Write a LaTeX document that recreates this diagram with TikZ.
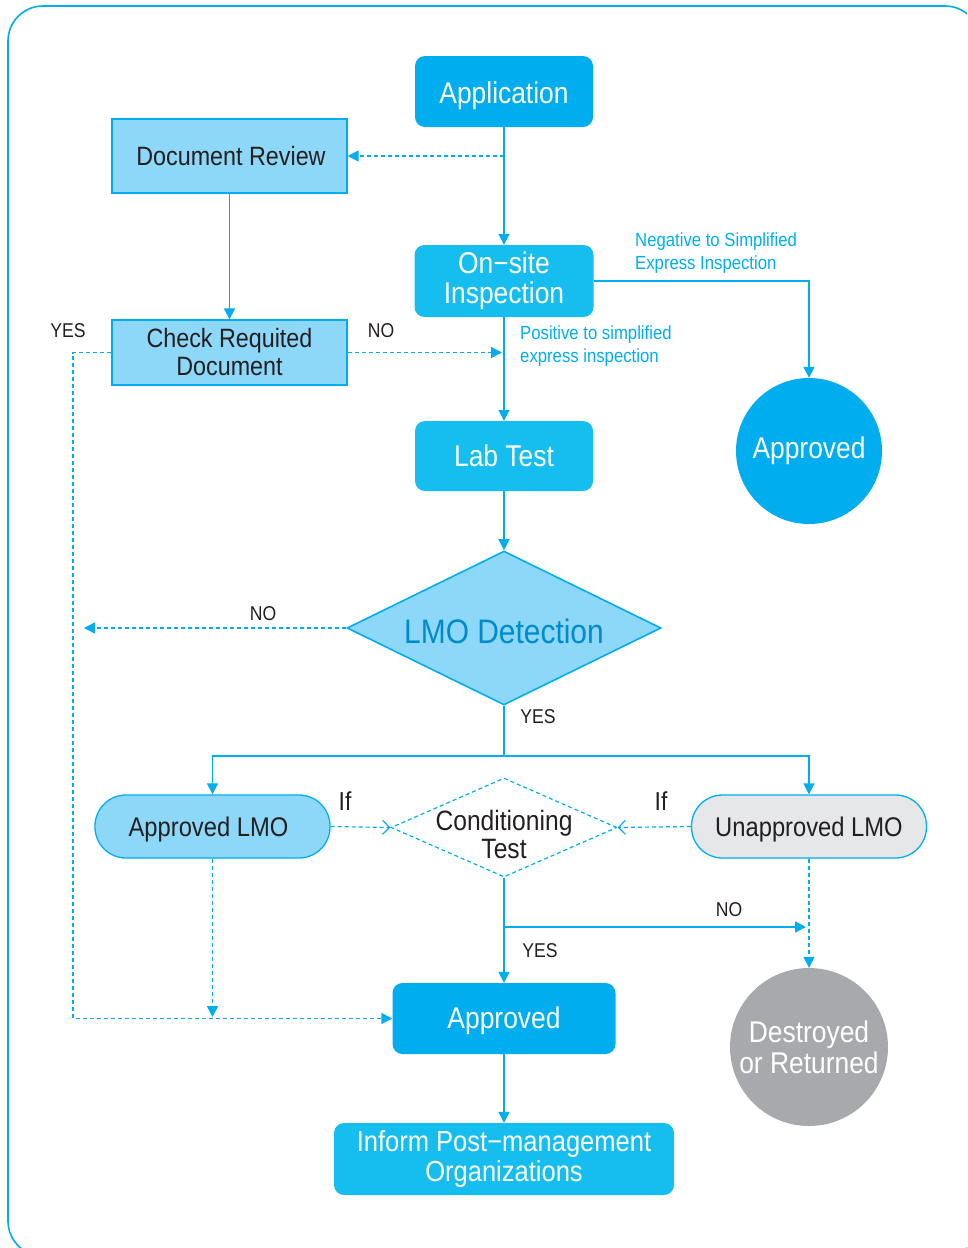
\documentclass[tikz,border=0pt]{standalone}
\usepackage{fontspec}
\setmainfont{Liberation Sans}[FakeStretch=0.88]
\usetikzlibrary{arrows.meta,shapes.geometric}
\definecolor{cyanA}{RGB}{0,174,239}
\definecolor{cyanB}{RGB}{22,190,240}
\definecolor{lightB}{RGB}{141,216,248}
\definecolor{lineC}{RGB}{0,174,239}
\definecolor{greyC}{RGB}{167,169,172}
\definecolor{paleC}{RGB}{230,231,232}
\definecolor{lmoText}{RGB}{0,140,202}
\definecolor{inkC}{RGB}{35,31,32}
\begin{document}
\begin{tikzpicture}[x=1pt,y=-1pt,
  darkbox/.style={rectangle,rounded corners=10pt,fill=cyanA,text=white,inner sep=0pt,
    align=center,font=\fontsize{30}{30}\selectfont},
  midbox/.style={darkbox,fill=cyanB},
  lightbox/.style={rectangle,fill=lightB,draw=lineC,line width=1.3pt,text=inkC,inner sep=0pt,
    align=center,font=\fontsize{26.5}{28}\selectfont},
  pill/.style={rectangle,rounded corners=31pt,draw=lineC,line width=1.3pt,text=inkC,inner sep=0pt,
    minimum width=235pt,minimum height=63pt,font=\fontsize{27}{28}\selectfont},
  disc/.style={circle,inner sep=0pt,text=white,align=center},
  decision/.style={diamond,inner sep=0pt,shape aspect=#1},
  lbl/.style={text=inkC,inner sep=0pt,font=\fontsize{20}{20}\selectfont},
  note/.style={text=cyanA,inner sep=0pt,align=left,font=\fontsize{19}{23}\selectfont},
  flow/.style={draw=lineC,line width=1.6pt,-{Triangle[length=11pt,width=11pt]}},
  dflow/.style={draw=lineC,line width=1.4pt,dash pattern=on 4pt off 3pt,-{Triangle[length=11pt,width=11pt]}},
  oflow/.style={draw=lineC,line width=1.2pt,dash pattern=on 4pt off 3pt,-{Straight Barb[length=7pt,width=14pt,line width=1.2pt]}},
  sline/.style={draw=lineC,line width=1.6pt}]
\useasboundingbox (0,0) rectangle (967,1248);
\begin{scope}
  \clip (0,0) rectangle (967,1248);
  % outer frame
  \draw[lineC,line width=1.6pt,rounded corners=35pt] (8,6) rectangle (980,1256);
\end{scope}

% nodes
\node[darkbox,minimum width=178pt,minimum height=71pt,text height=29pt,text depth=6pt] (app) at (504,91.5) {Application};
\node[lightbox,minimum width=235pt,minimum height=74pt] (docrev) at (229.5,156) {\hspace*{3pt}Document Review};
\node[midbox,minimum width=179pt,minimum height=72pt] (onsite) at (504,281) {On−site\\Inspection};
\node[lightbox,minimum width=235pt,minimum height=65pt] (check) at (229.5,352.5) {Check Requited\\Document};
\node[midbox,minimum width=178pt,minimum height=70pt] (lab) at (504,456) {Lab Test};
\node[disc,fill=cyanA,minimum size=146pt,font=\fontsize{30}{30}\selectfont] (appc) at (809,451) {Approved};
% decision shapes: the outline is an empty diamond, the wording sits at its centre
\node[decision=2.04,fill=lightB,draw=lineC,line width=1.6pt,minimum width=314pt,minimum height=154pt] (lmo) at (504,628) {};
\node[text=lmoText,inner sep=0pt,font=\fontsize{34}{34}\selectfont] (lmotext) at ([yshift=-3pt]lmo.center) {LMO Detection};
\node[pill,fill=lightB,text height=19pt,text depth=0pt] (alm) at (212.5,826.5) {Approved LMO\hspace*{8pt}};
\node[pill,fill=paleC,text height=19pt,text depth=0pt] (ualm) at (809,826.5) {Unapproved LMO};
\node[decision=2.28,draw=lineC,line width=1.2pt,dash pattern=on 4pt off 3pt,minimum width=226pt,minimum height=99pt] (ct) at (504,827.5) {};
\node[text=inkC,inner sep=0pt,align=center,font=\fontsize{28}{28}\selectfont] (cttext) at ([yshift=-7pt]ct.center) {Conditioning\\Test};
\node[darkbox,minimum width=223pt,minimum height=71pt,text height=26pt,text depth=6pt] (appb) at (504,1018.5) {Approved};
\node[disc,fill=greyC,minimum size=158pt,font=\fontsize{30}{31}\selectfont] (destr) at (809,1047) {Destroyed\\or Returned};
\node[midbox,minimum width=340pt,minimum height=72pt,font=\fontsize{29}{30}\selectfont] (inform) at (504,1159) {Inform Post−management\\Organizations};

% helper points on connectors
\coordinate (tap) at (504,156);
\coordinate (noend) at (502,352.5);
\coordinate (yescorner) at (73,352.5);
\coordinate (lmoNo) at (84,628);
\coordinate (split) at (504,756);
\coordinate (ctNo) at (504,927);
\coordinate (ctNoEnd) at (806,927);
\coordinate (almEnd) at (212.5,1017);

% connectors
\draw[flow] (app) -- (onsite);
\draw[dflow] (tap) -- (docrev.east);
\draw[flow] (docrev) -- (check);
\draw[dflow] (check.east) -- (noend);
\draw[dflow] (check.west) -- (yescorner) |- (appb.west);
\draw[flow] (onsite) -- (lab);
\draw[flow] (onsite.east) -| (appc.north);
\draw[flow] (lab) -- (lmo.north);
\draw[dflow] (lmo.west) -- (lmoNo);
\draw[sline] (lmo.south) -- (split);
\draw[flow] (split) -| (alm.north);
\draw[flow] (split) -| (ualm.north);
\draw[oflow] (alm.east) -- (ct.west);
\draw[oflow] (ualm.west) -- (ct.east);
\draw[flow] (ct.south) -- (appb.north);
\draw[flow] (ctNo) -- (ctNoEnd);
\draw[dflow] (ualm.south) -- (destr.north);
\draw[dflow] (alm.south) -- (almEnd);
\draw[flow] (appb) -- (inform);

% labels
\node[lbl] (yes1) at (68,331) {YES};
\node[lbl] (no1) at (381,331) {NO};
\node[lbl] (no2) at (263,614) {NO};
\node[lbl] (yes2) at (538,717) {YES};
\node[lbl,font=\fontsize{26}{26}\selectfont] (if1) at (345,801) {If};
\node[lbl,font=\fontsize{26}{26}\selectfont] (if2) at (661,801) {If};
\node[lbl] (no3) at (729,910) {NO};
\node[lbl] (yes3) at (540,951) {YES};
\node[note,anchor=west] (neg) at (635,253.5) {Negative to Simplified\\Express Inspection};
\node[note,anchor=west] (pos) at (520,346.5) {Positive to simplified\\express inspection};
\end{tikzpicture}
\end{document}
